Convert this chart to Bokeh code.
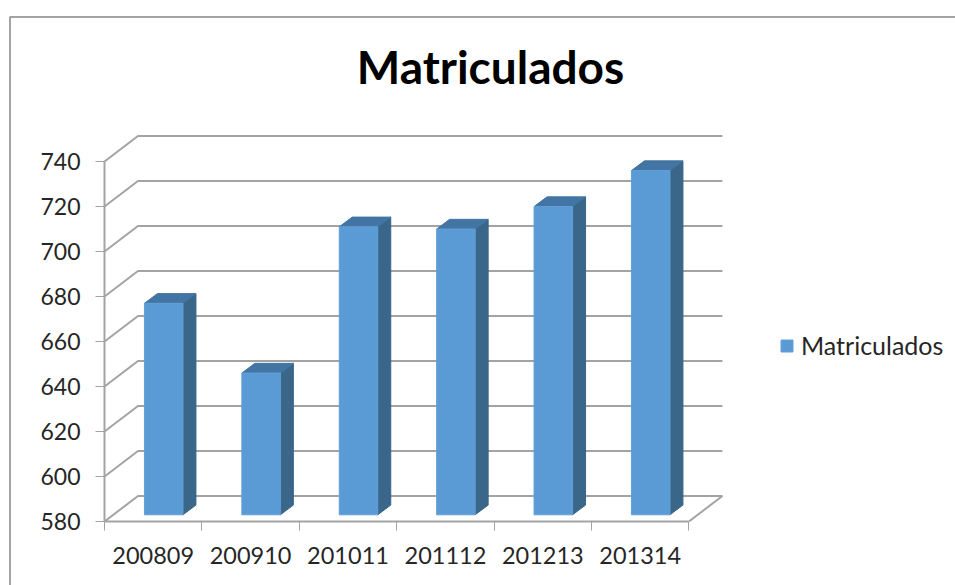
from bokeh.plotting import figure
from bokeh.models import FixedTicker, BoxAnnotation, Range1d, Label
from bokeh.embed import file_html
from bokeh.resources import INLINE

categories = ["200809", "200910", "201011", "201112", "201213", "201314"]
matriculados = [674, 643, 708, 707, 717, 733]
y_ticks = [580, 600, 620, 640, 660, 680, 700, 720, 740]

FONT = "Lato"
GRID = "#a3a3a3"
FRONT, SIDE, TOP = "#5b9bd5", "#3a6689", "#4275a3"

# scale: 97.4 px per category, 2.25 px per value unit
PX_X, PX_Y = 97.4, 2.25
W, H = 955, 585
AX_L, AX_B = 104, 521  # page position of the front axes
wall_dx, wall_dy = 33.5 / PX_X, 25.5 / PX_Y
bar_dx, bar_dy = 10.5 / PX_X, 6.7 / PX_Y
depth_dx, depth_dy = 13.0 / PX_X, 9.7 / PX_Y
bar_w = 38.5 / PX_X
n = len(categories)

p = figure(width=W, height=H, output_backend="svg", toolbar_location=None,
           x_range=Range1d(-AX_L / PX_X, (W - AX_L) / PX_X),
           y_range=Range1d(580 - (H - AX_B) / PX_Y, 580 + AX_B / PX_Y),
           min_border=0, tools="")
p.outline_line_color = None
p.grid.visible = False

# title
p.add_layout(Label(x=490, y=H - 66, x_units="screen", y_units="screen", text="Matriculados",
                   text_align="center", text_baseline="alphabetic",
                   text_font=FONT, text_font_size="46px", text_font_style="bold",
                   text_color="#000000"))

# walls: back-wall gridlines with their diagonals to the front axis, floor edge
xs = [[0, wall_dx, n + wall_dx] for _ in y_ticks] + [[n, n + wall_dx]]
ys = [[t, t + wall_dy, t + wall_dy] for t in y_ticks] + [[y_ticks[0], y_ticks[0] + wall_dy]]
p.multi_line(xs, ys, line_color=GRID, line_width=2)

# bars
cx = [i + 0.5 + bar_dx for i in range(n)]
lo = y_ticks[0] + bar_dy
hi = [v + bar_dy for v in matriculados]
side_x = [[c + bar_w / 2, c + bar_w / 2 + depth_dx, c + bar_w / 2 + depth_dx, c + bar_w / 2] for c in cx]
side_y = [[lo, lo + depth_dy, h + depth_dy, h] for h in hi]
top_x = [[c - bar_w / 2, c - bar_w / 2 + depth_dx, c + bar_w / 2 + depth_dx, c + bar_w / 2] for c in cx]
top_y = [[h, h + depth_dy, h + depth_dy, h] for h in hi]
p.patches(side_x, side_y, fill_color=SIDE, line_color=SIDE)
p.patches(top_x, top_y, fill_color=TOP, line_color=TOP)
p.vbar(x=cx, width=bar_w, bottom=lo, top=hi, fill_color=FRONT, line_color="#639fd8",
       legend_label="Matriculados")

# axes, pinned inside the frame
ya = p.yaxis[0]
ya.fixed_location = 0
ya.ticker = FixedTicker(ticks=y_ticks)
ya.bounds = (y_ticks[0], y_ticks[-1])
ya.axis_line_color = GRID
ya.axis_line_width = 2
ya.major_tick_line_color = GRID
ya.major_tick_in = 0
ya.major_tick_out = 9
ya.minor_tick_line_color = None
ya.major_label_standoff = 15
ya.major_label_text_font = FONT
ya.major_label_text_font_size = "23px"
ya.major_label_text_color = "#262626"

xa = p.xaxis[0]
xa.fixed_location = 580
xa.ticker = FixedTicker(ticks=[i + 0.5 for i in range(n)], minor_ticks=list(range(n + 1)))
xa.major_label_overrides = {i + 0.5: c for i, c in enumerate(categories)}
xa.bounds = (0, n)
xa.axis_line_color = GRID
xa.axis_line_width = 2
xa.major_tick_line_color = None
xa.major_tick_in = 0
xa.major_tick_out = 0
xa.minor_tick_line_color = GRID
xa.minor_tick_in = 0
xa.minor_tick_out = 9
xa.major_label_standoff = 16
xa.major_label_text_font = FONT
xa.major_label_text_font_size = "23.5px"
xa.major_label_text_color = "#262626"

# legend
lg = p.legend[0]
lg.location = (779, 225)
lg.border_line_color = None
lg.background_fill_color = None
lg.padding = 0
lg.margin = 0
lg.glyph_width = 15
lg.glyph_height = 15
lg.label_standoff = 7
lg.label_text_font = FONT
lg.label_text_font_size = "25px"
lg.label_text_color = "#262626"

# chart-area border (only top and left fall inside the picture)
p.add_layout(BoxAnnotation(left=(9.5 - AX_L) / PX_X, right=20,
                           top=580 + (AX_B - 16.5) / PX_Y, bottom=300,
                           fill_color=None, line_color="#868686", line_alpha=1.0, line_width=1.5,
                           level="overlay"))

open("out.html", "w").write(file_html(p, INLINE))
